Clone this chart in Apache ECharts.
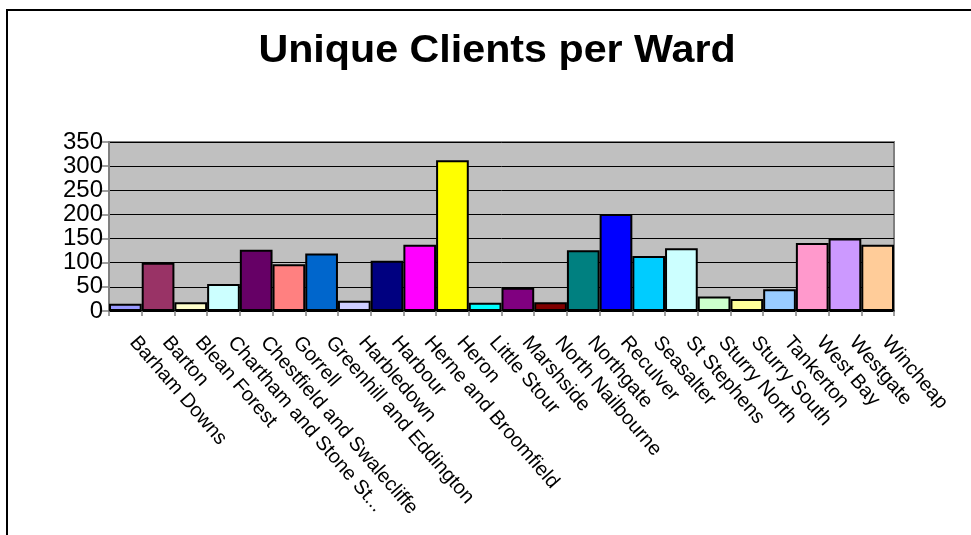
<!DOCTYPE html>
<html>
<head>
<meta charset="utf-8">
<script src="https://cdn.jsdelivr.net/npm/echarts@6/dist/echarts.min.js"></script>
<style>html,body{margin:0;padding:0;background:#fff;}#c{width:971px;height:535px;}</style>
</head>
<body>
<div id="c"></div>
<script>
var categories = ["Barham Downs","Barton","Blean Forest","Chartham and Stone St...","Chestfield and Swalecliffe","Gorrell","Greenhill and Eddington","Harbledown","Harbour","Herne and Broomfield","Heron","Little Stour","Marshside","North Nailbourne","Northgate","Reculver","Seasalter","St Stephens","Sturry North","Sturry South","Tankerton","West Bay","Westgate","Wincheap"];
var values = [15,100,18,56,127,97,119,21,104,137,312,17,48,18,126,201,114,130,30,25,45,141,150,137];
var colors = ["#9999FF","#993366","#FFFFCC","#CCFFFF","#660066","#FF8080","#0066CC","#CCCCFF","#000080","#FF00FF","#FFFF00","#00FFFF","#800080","#800000","#008080","#0000FF","#00CCFF","#CCFFFF","#CCFFCC","#FFFF99","#99CCFF","#FF99CC","#CC99FF","#FFCC99"];
var yTicks = [0,50,100,150,200,250,300,350];
var titleText = 'Unique Clients per Ward';

var chart = echarts.init(document.getElementById('c'), null, {renderer:'canvas'});
chart.setOption({
  animation:false,
  backgroundColor:'#ffffff',
  graphic:[{
    type:'rect', silent:true,
    shape:{x:7,y:10,width:1100,height:700},
    style:{fill:'none', stroke:'#000', lineWidth:2}
  },{
    type:'text', silent:true, x:497, y:33, scaleX:1.085,
    style:{text:titleText, font:'bold 38px "Liberation Sans", Arial', fill:'#000', align:'center', verticalAlign:'top'}
  }],
  grid:{left:109, right:77, top:142, bottom:224, show:true, backgroundColor:'#C0C0C0', borderColor:'#808080', borderWidth:2},
  xAxis:{
    type:'category', data:categories,
    axisLine:{show:true, lineStyle:{color:'#000', width:1.5}},
    axisTick:{show:true, alignWithLabel:false, length:5, lineStyle:{color:'#808080', width:1.5}},
    axisLabel:{interval:0, rotate:-49, margin:19, padding:[0,0,0,12], fontFamily:'Liberation Sans, Arial', fontSize:20, color:'#000'}
  },
  yAxis:{
    type:'value', min:yTicks[0], max:yTicks[yTicks.length-1], interval:50,
    axisLine:{show:true, lineStyle:{color:'#808080', width:2}},
    axisTick:{show:true, length:9, lineStyle:{color:'#808080', width:1.5}},
    splitLine:{show:true, lineStyle:{color:'#000', width:1}},
    axisLabel:{margin:6, showMinLabel:true, showMaxLabel:true, hideOverlap:false, fontFamily:'Liberation Sans, Arial', fontSize:24, lineHeight:18, color:'#000'}
  },
  series:[{
    type:'bar',
    data:values.map(function(v,i){return {value:v, itemStyle:{color:colors[i]}};}),
    barCategoryGap:'0%',
    itemStyle:{borderColor:'#000', borderWidth:2}
  }]
});
</script>
</body>
</html>
